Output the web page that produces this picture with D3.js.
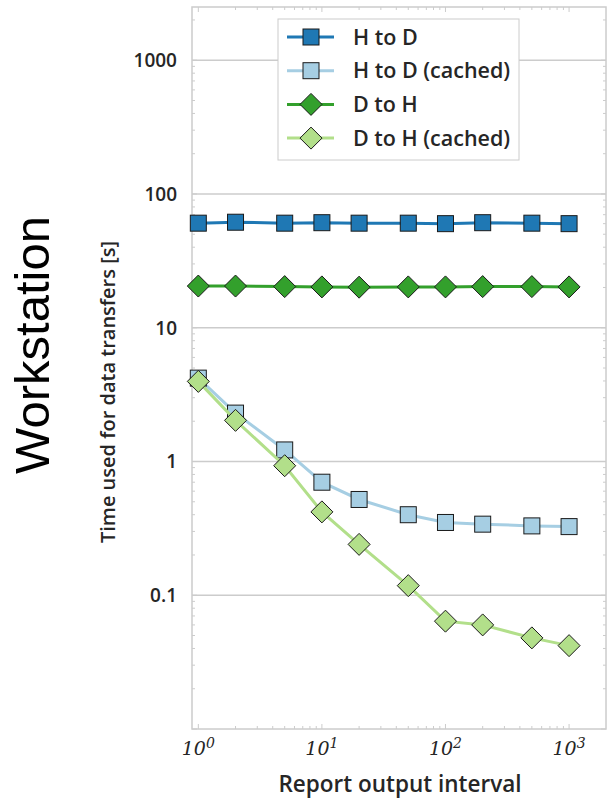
<!DOCTYPE html>
<html>
<head>
<meta charset="utf-8">
<script src="https://cdn.jsdelivr.net/npm/d3@7"></script>
<style>
  html, body { margin: 0; padding: 0; background: #fff; }
  svg { display: block; }
</style>
</head>
<body>
<svg id="chart" width="611" height="799"></svg>
<script>
// Report output intervals (x) and transfer times in seconds (y)
const intervals = [1, 2, 5, 10, 20, 50, 100, 200, 500, 1000];
const hToD = [60.5, 61.5, 60.5, 61, 60.5, 60.5, 60, 61, 60.5, 60];
const hToDCached = [4.2, 2.3, 1.22, 0.70, 0.52, 0.40, 0.35, 0.34, 0.33, 0.326];
const dToH = [20.5, 20.5, 20.3, 20.2, 20.1, 20.2, 20.2, 20.3, 20.3, 20.2];
const dToHCached = [3.97, 2.03, 0.93, 0.42, 0.24, 0.118, 0.064, 0.060, 0.048, 0.042];

const seriesNames = ["H to D", "H to D (cached)", "D to H", "D to H (cached)"];
const yTickValues = [0.1, 1, 10, 100, 1000];
const yTickLabels = ["0.1", "1", "10", "100", "1000"];
const xTickExponents = [0, 1, 2, 3];

const series = [
  { name: seriesNames[0], values: hToD, color: "#1f78b4", shape: "square" },
  { name: seriesNames[1], values: hToDCached, color: "#a6cee3", shape: "square" },
  { name: seriesNames[2], values: dToH, color: "#33a02c", shape: "diamond" },
  { name: seriesNames[3], values: dToHCached, color: "#b2df8a", shape: "diamond" }
];

const svg = d3.select("#chart");
const plot = { left: 192, right: 606, top: 7, bottom: 729 };

const x = d3.scaleLog().domain([0.889, 1990]).range([plot.left, plot.right]);
const y = d3.scaleLog().domain([0.01, 2500]).range([plot.bottom, plot.top]);

const gridColor = "#cccccc";
const textColor = "#262626";
const labelFont = "'Open Sans', 'Lato', sans-serif";

// horizontal gridlines at each decade
svg.append("g")
  .selectAll("line")
  .data(yTickValues)
  .join("line")
  .attr("x1", plot.left).attr("x2", plot.right)
  .attr("y1", d => y(d)).attr("y2", d => y(d))
  .attr("stroke", gridColor).attr("stroke-width", 1.5);

// inward tick marks on all four sides
const yMinor = [];
for (let e = -2; e <= 3; e++) for (let m = 1; m <= 9; m++) {
  const v = m * Math.pow(10, e);
  if (v >= 0.01 && v <= 2500) yMinor.push({ v, major: m === 1 });
}
const xMinor = [];
for (let e = 0; e <= 3; e++) for (let m = 1; m <= 9; m++) {
  const v = m * Math.pow(10, e);
  if (v >= 0.889 && v <= 1990) xMinor.push({ v, major: m === 1 });
}
const ticks = svg.append("g").attr("stroke", gridColor).attr("stroke-width", 1);
ticks.selectAll(".yl").data(yMinor).join("line")
  .attr("x1", plot.left).attr("x2", d => plot.left + (d.major ? 5 : 3))
  .attr("y1", d => y(d.v)).attr("y2", d => y(d.v));
ticks.selectAll(".yr").data(yMinor).join("line")
  .attr("x1", plot.right).attr("x2", d => plot.right - (d.major ? 5 : 3))
  .attr("y1", d => y(d.v)).attr("y2", d => y(d.v));
ticks.selectAll(".xb").data(xMinor).join("line")
  .attr("y1", plot.bottom).attr("y2", d => plot.bottom - (d.major ? 5 : 3))
  .attr("x1", d => x(d.v)).attr("x2", d => x(d.v));
ticks.selectAll(".xt").data(xMinor).join("line")
  .attr("y1", plot.top).attr("y2", d => plot.top + (d.major ? 5 : 3))
  .attr("x1", d => x(d.v)).attr("x2", d => x(d.v));

// frame
svg.append("rect")
  .attr("x", plot.left).attr("y", plot.top)
  .attr("width", plot.right - plot.left).attr("height", plot.bottom - plot.top)
  .attr("fill", "none").attr("stroke", gridColor).attr("stroke-width", 1.5);

// y tick labels
svg.append("g")
  .selectAll("text")
  .data(yTickValues)
  .join("text")
  .attr("x", 177).attr("y", d => y(d))
  .attr("dy", "0.36em")
  .attr("text-anchor", "end")
  .attr("font-family", labelFont).attr("font-weight", 600)
  .attr("font-size", 19).attr("fill", textColor)
  .text((d, i) => yTickLabels[i]);

// x tick labels as powers of ten
const xl = svg.append("g")
  .selectAll("text")
  .data(xTickExponents)
  .join("text")
  .attr("x", d => x(Math.pow(10, d)))
  .attr("y", 755)
  .attr("text-anchor", "middle")
  .attr("font-family", "'DejaVu Serif', 'Liberation Serif', serif")
  .attr("font-style", "italic")
  .attr("font-size", 19).attr("fill", textColor);
xl.append("tspan").text("10");
xl.append("tspan").attr("dy", -7).attr("font-size", 14).text(d => d);

// axis titles
svg.append("text")
  .attr("x", 400).attr("y", 792)
  .attr("text-anchor", "middle")
  .attr("font-family", labelFont).attr("font-weight", 600)
  .attr("font-size", 22.5).attr("fill", textColor)
  .text("Report output interval");

svg.append("text")
  .attr("transform", "translate(115,392) rotate(-90)")
  .attr("text-anchor", "middle")
  .attr("font-family", labelFont).attr("font-weight", 600)
  .attr("font-size", 20).attr("fill", textColor)
  .text("Time used for data transfers [s]");

svg.append("text")
  .attr("transform", "translate(49,345) rotate(-90)")
  .attr("text-anchor", "middle")
  .attr("font-family", "'Liberation Sans', Arial, sans-serif")
  .attr("font-size", 49).attr("fill", "#000")
  .text("Workstation");

// marker drawing helper
function marker(sel, shape, color) {
  if (shape === "square") {
    sel.append("rect")
      .attr("x", -8).attr("y", -8).attr("width", 16).attr("height", 16)
      .attr("fill", color).attr("stroke", "#1a1a1a").attr("stroke-width", 1);
  } else {
    sel.append("path")
      .attr("d", "M0,-11L11,0L0,11L-11,0Z")
      .attr("fill", color).attr("stroke", "#1a1a1a").attr("stroke-width", 1);
  }
}

// series lines and markers
const line = d3.line().x(d => x(d[0])).y(d => y(d[1]));
series.forEach(s => {
  const pts = intervals.map((v, i) => [v, s.values[i]]);
  const g = svg.append("g");
  g.append("path")
    .attr("d", line(pts))
    .attr("fill", "none").attr("stroke", s.color).attr("stroke-width", 3);
  g.selectAll("g").data(pts).join("g")
    .attr("transform", d => `translate(${x(d[0])},${y(d[1])})`)
    .each(function () { marker(d3.select(this), s.shape, s.color); });
});

// legend
const legend = svg.append("g");
legend.append("rect")
  .attr("x", 278).attr("y", 19).attr("width", 241).attr("height", 141)
  .attr("fill", "#fff").attr("stroke", gridColor).attr("stroke-width", 1);
series.forEach((s, i) => {
  const ry = 37 + i * 33.7;
  const row = legend.append("g");
  row.append("line")
    .attr("x1", 287).attr("x2", 334).attr("y1", ry).attr("y2", ry)
    .attr("stroke", s.color).attr("stroke-width", 3);
  const m = row.append("g").attr("transform", `translate(311,${ry})`);
  marker(m, s.shape, s.color);
  row.append("text")
    .attr("x", 353).attr("y", ry).attr("dy", "0.36em")
    .attr("font-family", labelFont).attr("font-weight", 600)
    .attr("font-size", 21.5).attr("fill", textColor)
    .text(s.name);
});
</script>
</body>
</html>
